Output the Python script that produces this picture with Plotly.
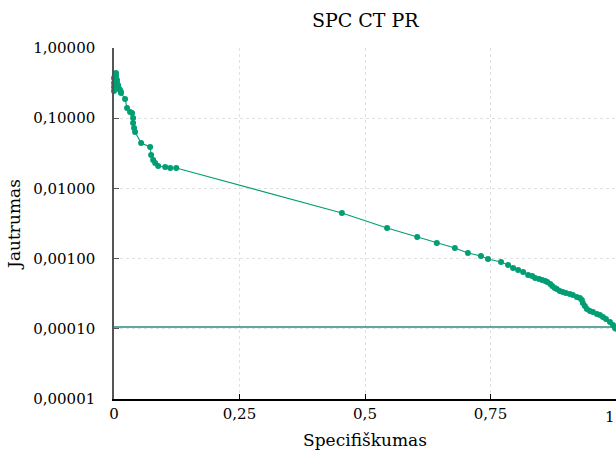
import plotly.graph_objects as go

# Specificity (x) and sensitivity (y) values
spec = [0.000, 0.000, 0.000, 0.000, 0.002, 0.004, 0.004, 0.006, 0.006, 0.008, 0.008,
        0.010, 0.012, 0.014, 0.014,
        0.022, 0.026, 0.032, 0.036, 0.038, 0.038, 0.040, 0.042,
        0.054, 0.072, 0.074, 0.078, 0.082, 0.088, 0.102, 0.112, 0.124,
        0.454, 0.544, 0.604, 0.643, 0.679, 0.705, 0.731, 0.745, 0.771, 0.785,
        0.795, 0.805, 0.815, 0.825, 0.833, 0.839, 0.847, 0.853, 0.859, 0.863,
        0.869, 0.873, 0.878, 0.882, 0.888, 0.894, 0.900, 0.908, 0.914, 0.922,
        0.928, 0.932, 0.934, 0.938, 0.942, 0.948, 0.954, 0.962, 0.968, 0.974,
        0.980, 0.988, 0.994, 0.998, 1.000]
sens = [0.244, 0.278, 0.317, 0.374, 0.426, 0.440, 0.399, 0.350, 0.317, 0.297, 0.278,
        0.262, 0.252, 0.236, 0.229,
        0.188, 0.140, 0.123, 0.119, 0.101, 0.0855, 0.0725, 0.0636,
        0.0443, 0.0389, 0.0299, 0.0254, 0.0230, 0.0209, 0.0202, 0.0195, 0.0195,
        0.00447, 0.00273, 0.00203, 0.00167, 0.00142, 0.00120, 0.00109, 0.000987, 0.000895, 0.000811,
        0.000735, 0.000688, 0.000645, 0.000584, 0.000565, 0.000529, 0.000512, 0.000496, 0.000480, 0.000464,
        0.000435, 0.000407, 0.000381, 0.000369, 0.000345, 0.000334, 0.000324, 0.000313, 0.000303, 0.000284,
        0.000275, 0.000257, 0.000233, 0.000211, 0.000191, 0.000179, 0.000174, 0.000163, 0.000157, 0.000147,
        0.000138, 0.000125, 0.000113, 0.000103, 0.000100]

baseline_x = [0.0, 1.0]
baseline_y = [0.000106, 0.000106]

x_tickvals = [0, 0.25, 0.5, 0.75]
x_ticktext = ["0", "0,25", "0,5", "0,75"]
x_last_tick = 1
x_last_text = "1"
y_tickvals = [1, 0.1, 0.01, 0.001, 0.0001, 0.00001]
y_ticktext = ["1,00000", "0,10000", "0,01000", "0,00100", "0,00010", "0,00001"]

FONT = "DejaVu Serif"
GREEN = "#009E73"

fig = go.Figure()
fig.add_trace(go.Scatter(x=baseline_x, y=baseline_y, mode="lines",
                         line=dict(color="#2E8B7E", width=1.3),
                         showlegend=False, hoverinfo="skip"))
fig.add_trace(go.Scatter(x=spec, y=sens, mode="lines+markers",
                         line=dict(color=GREEN, width=1.1),
                         marker=dict(color=GREEN, size=6),
                         showlegend=False, cliponaxis=False))

fig.add_annotation(x=x_last_tick, y=0, xref="x", yref="paper", text=x_last_text,
                   showarrow=False, xanchor="right", yanchor="top", yshift=-7, xshift=1,
                   font=dict(family=FONT, size=15, color="black"))

fig.update_layout(
    width=616, height=457,
    margin=dict(l=114, r=0, t=48, b=58),
    paper_bgcolor="white", plot_bgcolor="white",
    font=dict(family=FONT, color="black", size=15),
    title=dict(text="SPC CT PR", x=0.593, xanchor="center", y=0.955, yanchor="middle",
               font=dict(family=FONT, size=19, color="black")),
)
fig.update_xaxes(
    range=[0, 1], tickvals=x_tickvals + [x_last_tick], ticktext=x_ticktext + [""],
    showline=True, linecolor="black", linewidth=1.5,
    ticks="inside", ticklen=5, tickcolor="black",
    showgrid=True, gridcolor="#e0e0e0", griddash="dot", gridwidth=1,
    zeroline=False, tickfont=dict(family=FONT, size=15),
    title=dict(text="Specifiškumas", font=dict(family=FONT, size=17), standoff=12),
    automargin=False,
)
fig.update_yaxes(
    type="log", range=[-5, 0], tickvals=y_tickvals, ticktext=y_ticktext,
    showline=True, linecolor="#555555", linewidth=1.5,
    ticks="inside", ticklen=5, tickcolor="#555555",
    showgrid=True, gridcolor="#e0e0e0", griddash="dot", gridwidth=1,
    zeroline=False, tickfont=dict(family=FONT, size=15), ticklabelstandoff=14,
    title=dict(text="Jautrumas", font=dict(family=FONT, size=17), standoff=8),
    automargin=False,
)

fig.write_html("out.html")
